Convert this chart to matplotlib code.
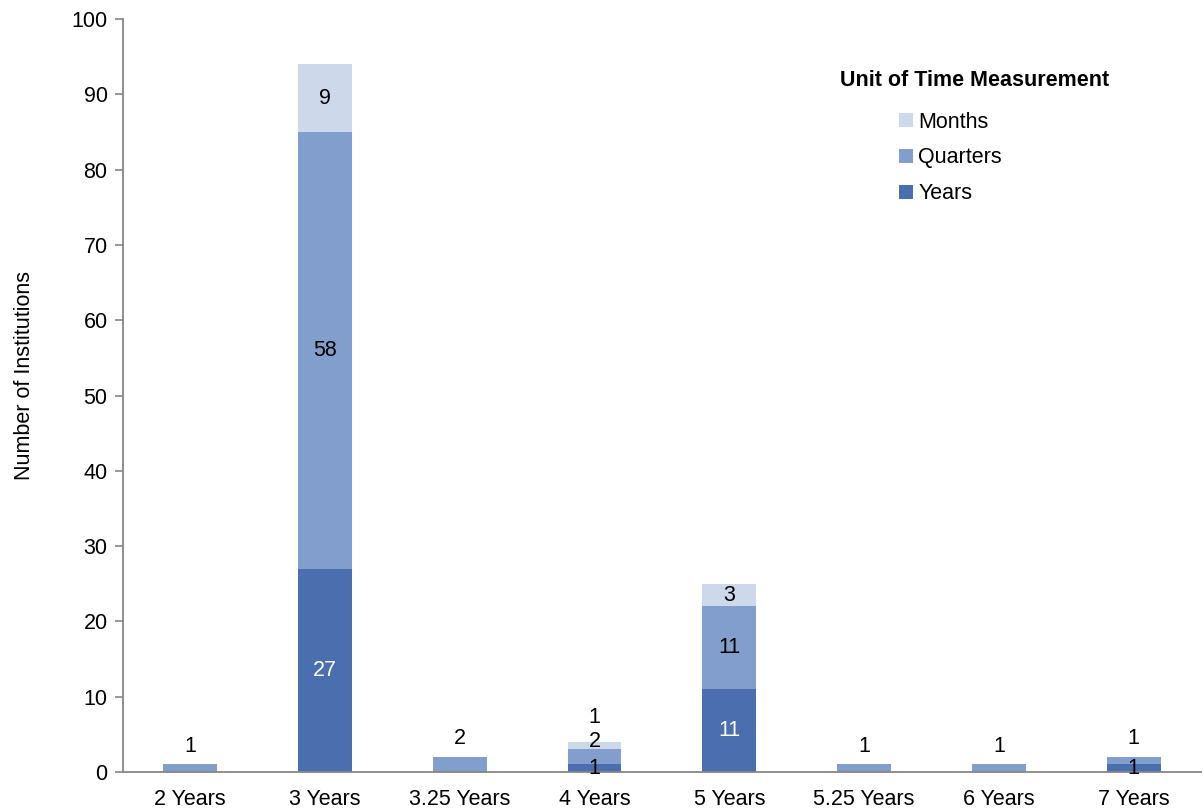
import matplotlib
matplotlib.use("Agg")
import matplotlib.pyplot as plt
import numpy as np

plt.rcParams['font.family'] = ['Liberation Sans', 'DejaVu Sans']

categories = ["2 Years", "3 Years", "3.25 Years", "4 Years", "5 Years",
              "5.25 Years", "6 Years", "7 Years"]
years = [0, 27, 0, 1, 11, 0, 0, 1]
quarters = [1, 58, 2, 2, 11, 1, 1, 1]
months = [0, 9, 0, 1, 3, 0, 0, 0]

series = [("Years", years, "#4a6eae", "white"),
          ("Quarters", quarters, "#819ecc", "black"),
          ("Months", months, "#cdd8ea", "black")]

FS = 15.5

fig = plt.figure(figsize=(12.04, 8.09), dpi=100)
ax = fig.add_axes([0.102, 0.0457, 0.8955, 0.9308])

x = np.arange(len(categories))
width = 0.4
bottom = np.zeros(len(categories))
totals = np.array(years) + np.array(quarters) + np.array(months)

small_labels = {i: [] for i in range(len(categories))}
for name, vals, color, tcolor in series:
    vals = np.array(vals, dtype=float)
    ax.bar(x, vals, width, bottom=bottom, color=color, label=name, zorder=2)
    for i, v in enumerate(vals):
        if v <= 0:
            continue
        if v >= 3 or name == "Years":
            c = "black" if v < 3 else tcolor
            ax.text(x[i], bottom[i] + v / 2, f"{int(v)}", ha="center",
                    va="center", fontsize=FS, color=c, zorder=3)
        else:
            small_labels[i].append(int(v))
    bottom += vals

# small segments: labels stacked above the bar, top-most series on top
for i, labs in small_labels.items():
    for k, v in enumerate(reversed(labs)):
        top = totals[i] + 2.4 if len(labs) == 1 else totals[i] + 3.2
        ax.text(x[i], top - 3.1 * k, f"{v}", ha="center",
                va="center", fontsize=FS, color="black", zorder=3)

ax.set_xlim(-0.5, len(categories) - 0.5)
ax.set_ylim(0, 100)
ax.set_yticks(np.arange(0, 101, 10))
ax.set_xticks(x)
ax.set_xticklabels(categories)
ax.tick_params(axis="x", length=0, pad=12, labelsize=FS)
ax.tick_params(axis="y", length=6, width=1.2, color="#868686", labelsize=FS, pad=5)
for s in ["top", "right"]:
    ax.spines[s].set_visible(False)
for s in ["left", "bottom"]:
    ax.spines[s].set_color("#868686")
    ax.spines[s].set_linewidth(1.3)

ax.set_ylabel("Number of Institutions", fontsize=FS)
ax.yaxis.set_label_coords(-0.081, 0.527)

# legend: bold heading drawn as text, entries listed below it
ax.text(0.790, 0.919, "Unit of Time Measurement", transform=ax.transAxes,
        ha="center", va="center", fontsize=FS, fontweight="bold")
handles, labels = ax.get_legend_handles_labels()
leg = ax.legend(handles[::-1], labels[::-1],
                loc="upper left", bbox_to_anchor=(0.720, 0.877), frameon=False,
                fontsize=FS, handlelength=0.65, handleheight=0.65,
                handletextpad=0.25, labelspacing=0.69, borderpad=0,
                borderaxespad=0)

fig.savefig("out.png", dpi=100)
